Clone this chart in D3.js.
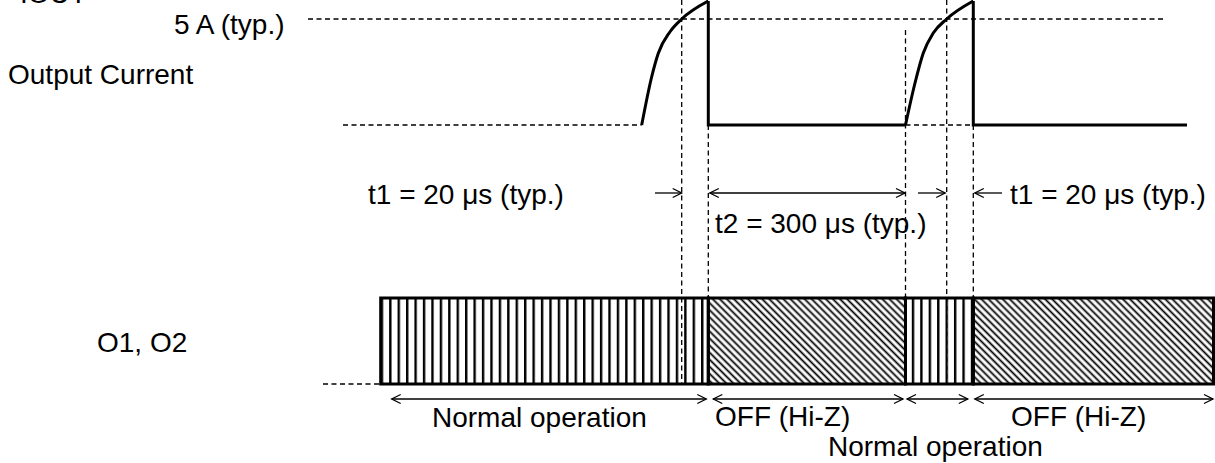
<!DOCTYPE html>
<html><head><meta charset="utf-8">
<script src="https://cdn.jsdelivr.net/npm/d3@7"></script>
<style>
body{margin:0;background:#fff}
svg{display:block}
text{font-family:"Liberation Sans",Arial,Helvetica,sans-serif;font-size:28px;fill:#000}
</style>
</head><body>
<svg id="c" width="1215" height="463"></svg>
<script>
// ---------- data (diagram time units / normalised current) ----------
const rowLabels = ["Output Current", "O1, O2"];
const levelLabel = "5 A (typ.)";
const levelValue = 0.848;            // 5 A level (fraction of peak)
// pulse 1 rise (time, current)
const rise1T = [641.7, 651.7, 658.3, 670, 681.7, 708.3];
const rise1I = [0, 0.386, 0.574, 0.746, 0.848, 0.992];
// pulse 2 rise
const rise2T = [905.5, 915, 923.3, 933.3, 946.7, 973.3];
const rise2I = [0, 0.336, 0.576, 0.736, 0.848, 0.992];
// low (off) intervals of the current
const lowStart = [708.3, 973.3];
const lowEnd = [905.5, 1187];
// state segments of O1, O2
const stateNames = ["Normal operation", "OFF (Hi-Z)", "Normal operation", "OFF (Hi-Z)"];
const stateKinds = ["on", "off", "on", "off"];
const stateStart = [380.7, 708.3, 905.5, 973.3];
const stateEnd = [708.3, 905.5, 973.3, 1213.5];
// timing annotations
const timingLabels = ["t1 = 20 \u03bcs (typ.)", "t2 = 300 \u03bcs (typ.)", "t1 = 20 \u03bcs (typ.)"];
const markerTimes = [681.7, 708.3, 905.5, 946.7, 973.3];

// ---------- scales ----------
const svg = d3.select("#c");
const x = d3.scaleLinear().domain([0, 1215]).range([0, 1215]);
const yI = d3.scaleLinear().domain([0, 1]).range([125, 0]);
const barTop = 298, barBot = 384;

const dash = "5,3.5";
const g = svg.append("g");

// top-left label, clipped by the page edge as in the reference
g.append("text").attr("x", 20).attr("y", 3).text("IOUT");

// ---------- defs: patterns ----------
const defs = svg.append("defs");
const pv = defs.append("pattern").attr("id", "vstripe").attr("patternUnits", "userSpaceOnUse")
  .attr("x", x(stateStart[0])).attr("y", 0).attr("width", 8.43).attr("height", 10);
pv.append("rect").attr("width", 8.43).attr("height", 10).attr("fill", "#fff");
pv.append("line").attr("x1", 1.2).attr("x2", 1.2).attr("y1", 0).attr("y2", 10).attr("stroke", "#000").attr("stroke-width", 2.4);
const ph = defs.append("pattern").attr("id", "hatch").attr("patternUnits", "userSpaceOnUse")
  .attr("width", 5).attr("height", 5).attr("patternTransform", "rotate(45)");
ph.append("rect").attr("width", 5).attr("height", 5).attr("fill", "#fff");
ph.append("line").attr("x1", 0).attr("x2", 5).attr("y1", 2.5).attr("y2", 2.5).attr("stroke", "#000").attr("stroke-width", 1.8);

// ---------- dashed reference lines ----------
const dl = (x1, y1, x2, y2) => g.append("line").attr("x1", x1).attr("y1", y1).attr("x2", x2).attr("y2", y2)
  .attr("stroke", "#000").attr("stroke-width", 1.3).attr("stroke-dasharray", dash);
dl(308, yI(levelValue), 1165, yI(levelValue));
dl(343, yI(0), x(rise1T[0]), yI(0));
dl(x(rise2T[0]), yI(0), x(rise2T[rise2T.length - 1]), yI(0));
dl(323, barBot, x(stateStart[0]), barBot);

// ---------- O1,O2 bar ----------
stateKinds.forEach((k, i) => {
  g.append("rect").attr("x", x(stateStart[i])).attr("y", barTop)
    .attr("width", x(stateEnd[i]) - x(stateStart[i])).attr("height", barBot - barTop)
    .attr("fill", k === "on" ? "url(#vstripe)" : "url(#hatch)");
});
// vertical dashed markers
const markerTop = [0, yI(0), 30, 0, yI(0)];
const markerBot = [barBot, barTop, barTop, barBot, barTop];
markerTimes.forEach((t, i) => dl(x(t), markerTop[i], x(t), markerBot[i]));
stateKinds.forEach((k, i) => {
  g.append("rect").attr("x", x(stateStart[i])).attr("y", barTop)
    .attr("width", x(stateEnd[i]) - x(stateStart[i])).attr("height", barBot - barTop)
    .attr("fill", "none").attr("stroke", "#000").attr("stroke-width", 3);
});

// ---------- current waveform ----------
const curve = d3.line().x(d => x(d[0])).y(d => yI(d[1])).curve(d3.curveMonotoneX);
const straight = d3.line().x(d => x(d[0])).y(d => yI(d[1]));
[[rise1T, rise1I], [rise2T, rise2I]].forEach(([T, I]) => {
  g.append("path").attr("d", curve(T.map((t, j) => [t, I[j]])))
    .attr("fill", "none").attr("stroke", "#000").attr("stroke-width", 3);
});
lowStart.forEach((s, i) => {
  const peak = i === 0 ? rise1I[rise1I.length - 1] : rise2I[rise2I.length - 1];
  g.append("path").attr("d", straight([[s, peak], [s, 0], [lowEnd[i], 0]]))
    .attr("fill", "none").attr("stroke", "#000").attr("stroke-width", 3).attr("stroke-linejoin", "miter");
});

// ---------- arrows ----------
function head(px, py, dir) {
  g.append("path").attr("d", `M${px - dir * 9},${py - 4.5}L${px},${py}L${px - dir * 9},${py + 4.5}`)
    .attr("fill", "none").attr("stroke", "#000").attr("stroke-width", 1.3);
}
function arrow(x1, x2, y, h1, h2) {
  g.append("line").attr("x1", x1).attr("x2", x2).attr("y1", y).attr("y2", y).attr("stroke", "#000").attr("stroke-width", 1.3);
  if (h1) head(x1, y, -1);
  if (h2) head(x2, y, 1);
}
const ay = 193;
arrow(655, x(markerTimes[0]), ay, false, true);
arrow(x(markerTimes[1]) + 1.5, x(markerTimes[2]) - 0.5, ay, true, true);
arrow(918, x(markerTimes[3]) - 1.5, ay, false, true);
arrow(x(markerTimes[4]) + 1.5, 1002, ay, true, false);

const by = 399;
const arrowPad = [[11, 2], [5, 2.5], [1.5, 5.5], [1.5, 0.5]];
stateStart.forEach((s, i) => arrow(x(s) + arrowPad[i][0], x(stateEnd[i]) - arrowPad[i][1], by, true, true));

// ---------- texts ----------
g.append("text").attr("x", 174).attr("y", 34).text(levelLabel);
g.append("text").attr("x", 8).attr("y", 84).text(rowLabels[0]);
g.append("text").attr("x", 97).attr("y", 352).text(rowLabels[1]);
g.append("text").attr("x", 368).attr("y", 204).text(timingLabels[0]);
g.append("text").attr("x", 715).attr("y", 233).text(timingLabels[1]);
g.append("text").attr("x", 1010).attr("y", 204).text(timingLabels[2]);
const stX = [432, 715, 828, 1011], stY = [427, 426, 456, 426];
stateNames.forEach((n, i) => g.append("text").attr("x", stX[i]).attr("y", stY[i]).text(n));
</script>
</body></html>
